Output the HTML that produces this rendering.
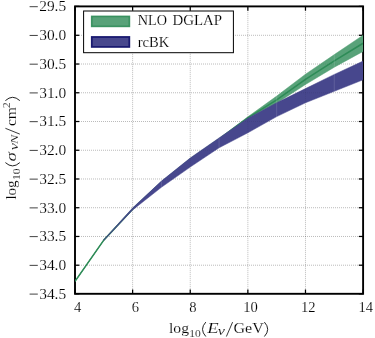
<!DOCTYPE html>
<html><head><meta charset="utf-8"><style>
html,body{margin:0;padding:0;background:#fff;}
svg{display:block;font-family:"Liberation Serif",serif;will-change:transform;opacity:0.999;}
text{fill:#000;stroke:#fff;stroke-width:0.15px;}
</style></head><body>
<svg width="375" height="338" viewBox="0 0 375 338">
<rect width="375" height="338" fill="#fff"/>

<defs><clipPath id="c"><rect x="75.0" y="6.4" width="288.1" height="287.4"/></clipPath></defs>
<g stroke="#000" stroke-opacity="0.6" stroke-width="0.6" stroke-dasharray="0.75,1.25"><line x1="132.62" y1="6.4" x2="132.62" y2="293.8"/><line x1="190.24" y1="6.4" x2="190.24" y2="293.8"/><line x1="247.86" y1="6.4" x2="247.86" y2="293.8"/><line x1="305.48" y1="6.4" x2="305.48" y2="293.8"/><line x1="75.0" y1="35.29" x2="363.1" y2="35.29"/><line x1="75.0" y1="64.03" x2="363.1" y2="64.03"/><line x1="75.0" y1="92.77" x2="363.1" y2="92.77"/><line x1="75.0" y1="121.51" x2="363.1" y2="121.51"/><line x1="75.0" y1="150.25" x2="363.1" y2="150.25"/><line x1="75.0" y1="178.99" x2="363.1" y2="178.99"/><line x1="75.0" y1="207.73" x2="363.1" y2="207.73"/><line x1="75.0" y1="236.47" x2="363.1" y2="236.47"/><line x1="75.0" y1="265.21" x2="363.1" y2="265.21"/></g>
<g stroke="#000" stroke-width="1.25"><line x1="75.00" y1="293.8" x2="75.00" y2="289.5"/><line x1="75.00" y1="6.4" x2="75.00" y2="10.7"/><line x1="132.62" y1="293.8" x2="132.62" y2="289.5"/><line x1="132.62" y1="6.4" x2="132.62" y2="10.7"/><line x1="190.24" y1="293.8" x2="190.24" y2="289.5"/><line x1="190.24" y1="6.4" x2="190.24" y2="10.7"/><line x1="247.86" y1="293.8" x2="247.86" y2="289.5"/><line x1="247.86" y1="6.4" x2="247.86" y2="10.7"/><line x1="305.48" y1="293.8" x2="305.48" y2="289.5"/><line x1="305.48" y1="6.4" x2="305.48" y2="10.7"/><line x1="363.10" y1="293.8" x2="363.10" y2="289.5"/><line x1="363.10" y1="6.4" x2="363.10" y2="10.7"/><line x1="75.0" y1="6.40" x2="79.3" y2="6.40"/><line x1="363.1" y1="6.40" x2="358.8" y2="6.40"/><line x1="75.0" y1="35.29" x2="79.3" y2="35.29"/><line x1="363.1" y1="35.29" x2="358.8" y2="35.29"/><line x1="75.0" y1="64.03" x2="79.3" y2="64.03"/><line x1="363.1" y1="64.03" x2="358.8" y2="64.03"/><line x1="75.0" y1="92.77" x2="79.3" y2="92.77"/><line x1="363.1" y1="92.77" x2="358.8" y2="92.77"/><line x1="75.0" y1="121.51" x2="79.3" y2="121.51"/><line x1="363.1" y1="121.51" x2="358.8" y2="121.51"/><line x1="75.0" y1="150.25" x2="79.3" y2="150.25"/><line x1="363.1" y1="150.25" x2="358.8" y2="150.25"/><line x1="75.0" y1="178.99" x2="79.3" y2="178.99"/><line x1="363.1" y1="178.99" x2="358.8" y2="178.99"/><line x1="75.0" y1="207.73" x2="79.3" y2="207.73"/><line x1="363.1" y1="207.73" x2="358.8" y2="207.73"/><line x1="75.0" y1="236.47" x2="79.3" y2="236.47"/><line x1="363.1" y1="236.47" x2="358.8" y2="236.47"/><line x1="75.0" y1="265.21" x2="79.3" y2="265.21"/><line x1="363.1" y1="265.21" x2="358.8" y2="265.21"/><line x1="75.0" y1="293.80" x2="79.3" y2="293.80"/><line x1="363.1" y1="293.80" x2="358.8" y2="293.80"/></g>
<rect x="75.0" y="6.4" width="288.1" height="287.4" fill="none" stroke="#000" stroke-width="1.9"/>
<clipPath id="bp"><polygon points="75.0,281.4 103.8,240.1 132.6,208.4 161.4,181.6 190.2,158.5 219.1,138.4 247.9,116.8 276.7,96.1 305.5,74.2 334.3,54.6 363.1,35.2 363.1,51.4 334.3,67.2 305.5,84.5 276.7,103.2 247.9,118.6 219.1,139.4 190.2,159.5 161.4,182.6 132.6,209.4 103.8,240.1 75.0,281.4"/><polygon points="103.8,239.7 132.6,207.9 161.4,181.1 190.2,158.0 219.1,137.9 247.9,118.2 276.7,102.8 305.5,88.6 334.3,74.4 363.1,61.1 363.1,79.8 334.3,91.3 305.5,102.8 276.7,116.6 247.9,132.8 219.1,147.8 190.2,167.1 161.4,187.3 132.6,210.0 103.8,240.5"/></clipPath>
<g clip-path="url(#c)">
<polygon points="75.0,281.4 103.8,240.1 132.6,208.4 161.4,181.6 190.2,158.5 219.1,138.4 247.9,116.8 276.7,96.1 305.5,74.2 334.3,54.6 363.1,35.2 363.1,51.4 334.3,67.2 305.5,84.5 276.7,103.2 247.9,118.6 219.1,139.4 190.2,159.5 161.4,182.6 132.6,209.4 103.8,240.1 75.0,281.4" fill="#58a279" stroke="#58a279" stroke-width="0.5"/>
<polyline points="75.0,281.4 103.8,240.1 132.6,209.2 161.4,182.4 190.2,159.3 219.1,139.2 247.9,117.9 276.7,99.9 305.5,79.3 334.3,60.9 363.1,43.3" fill="none" stroke="#2e8b57" stroke-width="1.6" stroke-linejoin="round"/>
<polygon points="103.8,239.7 132.6,207.9 161.4,181.1 190.2,158.0 219.1,137.9 247.9,118.2 276.7,102.8 305.5,88.6 334.3,74.4 363.1,61.1 363.1,79.8 334.3,91.3 305.5,102.8 276.7,116.6 247.9,132.8 219.1,147.8 190.2,167.1 161.4,187.3 132.6,210.0 103.8,240.5" fill="#47478d" stroke="#47478d" stroke-width="0.5"/>
<g clip-path="url(#bp)" stroke="#fff" stroke-opacity="0.22" stroke-width="0.6"><line x1="161.43" y1="6.4" x2="161.43" y2="293.8"/><line x1="219.05" y1="6.4" x2="219.05" y2="293.8"/><line x1="276.67" y1="6.4" x2="276.67" y2="293.8"/><line x1="334.29" y1="6.4" x2="334.29" y2="293.8"/></g>
<g clip-path="url(#bp)" stroke="#000" stroke-opacity="0.15" stroke-width="0.6" stroke-dasharray="0.75,1.25"><line x1="132.62" y1="6.4" x2="132.62" y2="293.8"/><line x1="190.24" y1="6.4" x2="190.24" y2="293.8"/><line x1="247.86" y1="6.4" x2="247.86" y2="293.8"/><line x1="305.48" y1="6.4" x2="305.48" y2="293.8"/><line x1="75.0" y1="35.29" x2="363.1" y2="35.29"/><line x1="75.0" y1="64.03" x2="363.1" y2="64.03"/><line x1="75.0" y1="92.77" x2="363.1" y2="92.77"/><line x1="75.0" y1="121.51" x2="363.1" y2="121.51"/><line x1="75.0" y1="150.25" x2="363.1" y2="150.25"/><line x1="75.0" y1="178.99" x2="363.1" y2="178.99"/><line x1="75.0" y1="207.73" x2="363.1" y2="207.73"/><line x1="75.0" y1="236.47" x2="363.1" y2="236.47"/><line x1="75.0" y1="265.21" x2="363.1" y2="265.21"/></g>
</g>
<rect x="83.6" y="11" width="149.8" height="41.7" fill="#fff" stroke="#000" stroke-width="1"/>
<rect x="91.7" y="16.4" width="37.7" height="10" fill="#2e8b57" fill-opacity="0.8" stroke="#2e8b57" stroke-opacity="0.9" stroke-width="1.6"/>
<rect x="91.8" y="37.0" width="37.5" height="9.9" fill="#191970" fill-opacity="0.8" stroke="#191970" stroke-width="1.8"/>
<text x="137.8" y="25.2" font-size="14.6" textLength="29.2" lengthAdjust="spacingAndGlyphs">NLO</text>
<text x="172.4" y="25.2" font-size="14.6" textLength="49.6" lengthAdjust="spacingAndGlyphs">DGLAP</text>
<text x="137.7" y="46.6" font-size="14.6" textLength="31.6" lengthAdjust="spacingAndGlyphs">rcBK</text>
<line x1="29.6" y1="6.70" x2="37.8" y2="6.70" stroke="#111" stroke-width="0.8"/>
<text x="39.2" y="11.40" font-size="14.7" textLength="27" lengthAdjust="spacingAndGlyphs">29.5</text>
<line x1="29.6" y1="35.44" x2="37.8" y2="35.44" stroke="#111" stroke-width="0.8"/>
<text x="39.2" y="40.14" font-size="14.7" textLength="27" lengthAdjust="spacingAndGlyphs">30.0</text>
<line x1="29.6" y1="64.18" x2="37.8" y2="64.18" stroke="#111" stroke-width="0.8"/>
<text x="39.2" y="68.88" font-size="14.7" textLength="27" lengthAdjust="spacingAndGlyphs">30.5</text>
<line x1="29.6" y1="92.92" x2="37.8" y2="92.92" stroke="#111" stroke-width="0.8"/>
<text x="39.2" y="97.62" font-size="14.7" textLength="27" lengthAdjust="spacingAndGlyphs">31.0</text>
<line x1="29.6" y1="121.66" x2="37.8" y2="121.66" stroke="#111" stroke-width="0.8"/>
<text x="39.2" y="126.36" font-size="14.7" textLength="27" lengthAdjust="spacingAndGlyphs">31.5</text>
<line x1="29.6" y1="150.40" x2="37.8" y2="150.40" stroke="#111" stroke-width="0.8"/>
<text x="39.2" y="155.10" font-size="14.7" textLength="27" lengthAdjust="spacingAndGlyphs">32.0</text>
<line x1="29.6" y1="179.14" x2="37.8" y2="179.14" stroke="#111" stroke-width="0.8"/>
<text x="39.2" y="183.84" font-size="14.7" textLength="27" lengthAdjust="spacingAndGlyphs">32.5</text>
<line x1="29.6" y1="207.88" x2="37.8" y2="207.88" stroke="#111" stroke-width="0.8"/>
<text x="39.2" y="212.58" font-size="14.7" textLength="27" lengthAdjust="spacingAndGlyphs">33.0</text>
<line x1="29.6" y1="236.62" x2="37.8" y2="236.62" stroke="#111" stroke-width="0.8"/>
<text x="39.2" y="241.32" font-size="14.7" textLength="27" lengthAdjust="spacingAndGlyphs">33.5</text>
<line x1="29.6" y1="265.36" x2="37.8" y2="265.36" stroke="#111" stroke-width="0.8"/>
<text x="39.2" y="270.06" font-size="14.7" textLength="27" lengthAdjust="spacingAndGlyphs">34.0</text>
<line x1="29.6" y1="294.10" x2="37.8" y2="294.10" stroke="#111" stroke-width="0.8"/>
<text x="39.2" y="298.80" font-size="14.7" textLength="27" lengthAdjust="spacingAndGlyphs">34.5</text>
<text x="74.05" y="312.2" font-size="14.7" textLength="7.3" lengthAdjust="spacingAndGlyphs">4</text>
<text x="131.67" y="312.2" font-size="14.7" textLength="7.3" lengthAdjust="spacingAndGlyphs">6</text>
<text x="189.29" y="312.2" font-size="14.7" textLength="7.3" lengthAdjust="spacingAndGlyphs">8</text>
<text x="243.26" y="312.2" font-size="14.7" textLength="14.6" lengthAdjust="spacingAndGlyphs">10</text>
<text x="300.88" y="312.2" font-size="14.7" textLength="14.6" lengthAdjust="spacingAndGlyphs">12</text>
<text x="358.50" y="312.2" font-size="14.7" textLength="14.6" lengthAdjust="spacingAndGlyphs">14</text>
<g font-size="14.4">
<text x="169" y="332.9" textLength="20" lengthAdjust="spacingAndGlyphs">log</text>
<text x="189.3" y="336.5" font-size="11.4" stroke="none" textLength="11.5" lengthAdjust="spacingAndGlyphs">10</text>
<path d="M205.80,322.10 Q199.20,329.30 205.80,336.50" fill="none" stroke="#222" stroke-width="1"/>
<text x="207.3" y="332.9" font-style="italic" textLength="11.4" lengthAdjust="spacingAndGlyphs">E</text>
<text x="217.8" y="335.1" font-size="12.6" stroke="none" font-style="italic" textLength="7.2" lengthAdjust="spacingAndGlyphs">ν</text>
<line x1="226.40" y1="336.50" x2="232.60" y2="322.10" stroke="#222" stroke-width="0.9"/>
<text x="233.5" y="332.9" textLength="30.3" lengthAdjust="spacingAndGlyphs">GeV</text>
<path d="M264.40,322.10 Q271.00,329.30 264.40,336.50" fill="none" stroke="#222" stroke-width="1"/>
</g>
<g font-size="14.4" transform="translate(16.2,199.6) rotate(-90)">
<text x="0" y="0" textLength="19.2" lengthAdjust="spacingAndGlyphs">log</text>
<text x="19.6" y="3.4" font-size="11.4" stroke="none" textLength="11.5" lengthAdjust="spacingAndGlyphs">10</text>
<path d="M37.00,-10.80 Q30.40,-3.60 37.00,3.60" fill="none" stroke="#222" stroke-width="1"/>
<text x="38.2" y="0" font-style="italic" textLength="9.4" lengthAdjust="spacingAndGlyphs">σ</text>
<text x="49.3" y="2.1" font-size="12.6" stroke="none" font-style="italic" textLength="7.2" lengthAdjust="spacingAndGlyphs">ν</text>
<text x="55.6" y="2.1" font-size="11.4" stroke="none" font-style="italic" textLength="9.3" lengthAdjust="spacingAndGlyphs">N</text>
<line x1="65.50" y1="3.60" x2="71.30" y2="-10.80" stroke="#222" stroke-width="0.9"/>
<text x="73.5" y="0" textLength="19.0" lengthAdjust="spacingAndGlyphs">cm</text>
<text x="91.6" y="-6.6" font-size="11.4" stroke="none">2</text>
<path d="M99.00,-10.80 Q105.60,-3.60 99.00,3.60" fill="none" stroke="#222" stroke-width="1"/>
</g>
</svg></body></html>
